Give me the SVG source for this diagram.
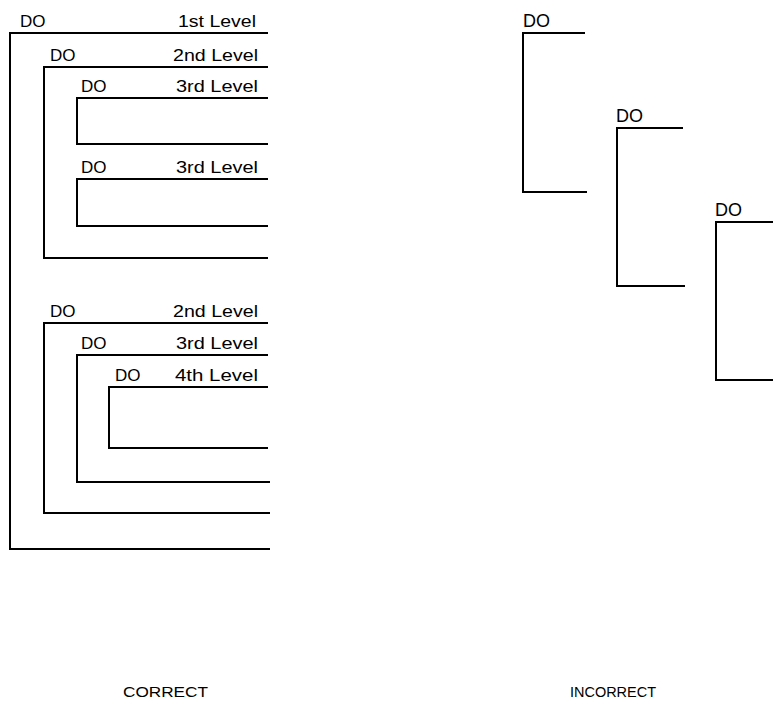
<svg xmlns="http://www.w3.org/2000/svg" width="773" height="704" viewBox="0 0 773 704">
  <style>
    .br { fill: none; stroke: #000; stroke-width: 2; }
    .t { font-family: "Liberation Sans", "DejaVu Sans", sans-serif; font-size: 16.5px; fill: #000; }
    .do { font-family: "Liberation Sans", "DejaVu Sans", sans-serif; font-size: 17px; fill: #000; }
    .do-r { font-size: 18px; }
    .lv { text-anchor: end; }
    .cap { font-family: "Liberation Sans", "DejaVu Sans", sans-serif; font-size: 15px; fill: #000; }
  </style>
  <rect width="773" height="704" fill="#fff"/>

  <!-- Correct nesting: each DO range closes inside its outer range -->
  <g id="correct-level1">
    <path class="br" d="M268,33 H10 V549 H270"/>
    <text class="do" x="20" y="27">DO</text>
    <text class="t lv" x="256" y="27" textLength="78" lengthAdjust="spacingAndGlyphs">1st Level</text>
  </g>
  <g id="correct-level2a">
    <path class="br" d="M268,67 H44 V258 H268"/>
    <text class="do" x="50" y="61">DO</text>
    <text class="t lv" x="258" y="61" textLength="85" lengthAdjust="spacingAndGlyphs">2nd Level</text>
  </g>
  <g id="correct-level3a">
    <path class="br" d="M268,98 H77 V144 H268"/>
    <text class="do" x="81" y="92">DO</text>
    <text class="t lv" x="258" y="92" textLength="82" lengthAdjust="spacingAndGlyphs">3rd Level</text>
  </g>
  <g id="correct-level3b">
    <path class="br" d="M268,179 H77 V226 H268"/>
    <text class="do" x="81" y="173">DO</text>
    <text class="t lv" x="258" y="173" textLength="82" lengthAdjust="spacingAndGlyphs">3rd Level</text>
  </g>
  <g id="correct-level2b">
    <path class="br" d="M268,323 H44 V513 H270"/>
    <text class="do" x="50" y="317">DO</text>
    <text class="t lv" x="258" y="317" textLength="85" lengthAdjust="spacingAndGlyphs">2nd Level</text>
  </g>
  <g id="correct-level3c">
    <path class="br" d="M268,355 H77 V482 H270"/>
    <text class="do" x="81" y="349">DO</text>
    <text class="t lv" x="258" y="349" textLength="82" lengthAdjust="spacingAndGlyphs">3rd Level</text>
  </g>
  <g id="correct-level4">
    <path class="br" d="M268,387 H109 V448 H268"/>
    <text class="do" x="115" y="381">DO</text>
    <text class="t lv" x="258" y="381" textLength="83" lengthAdjust="spacingAndGlyphs">4th Level</text>
  </g>

  <!-- Incorrect: overlapping ranges -->
  <g id="incorrect-do1">
    <path class="br" d="M585,33 H523 V192 H587"/>
    <text class="do do-r" x="523" y="27">DO</text>
  </g>
  <g id="incorrect-do2">
    <path class="br" d="M683,128 H617 V286 H685"/>
    <text class="do do-r" x="616" y="122">DO</text>
  </g>
  <g id="incorrect-do3">
    <path class="br" d="M773,222 H716 V380 H773"/>
    <text class="do do-r" x="715" y="216">DO</text>
  </g>

  <g id="connectors"></g>

  <g id="captions">
    <text class="cap" x="123" y="697" textLength="85" lengthAdjust="spacingAndGlyphs">CORRECT</text>
    <text class="cap" x="570" y="697" textLength="86" lengthAdjust="spacingAndGlyphs">INCORRECT</text>
  </g>
</svg>
